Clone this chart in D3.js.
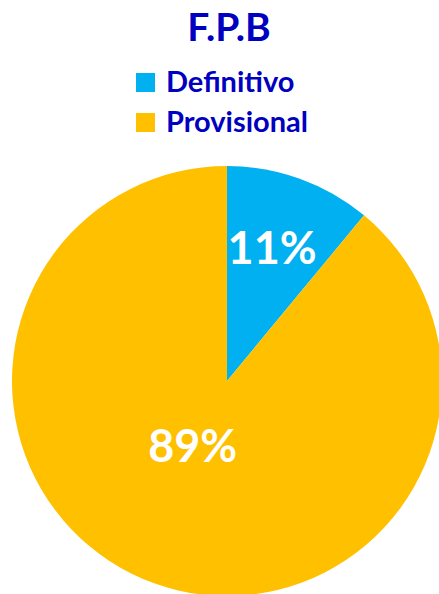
<!DOCTYPE html>
<html>
<head>
<meta charset="utf-8">
<script src="https://cdn.jsdelivr.net/npm/d3@7"></script>
<style>
  html, body { margin: 0; padding: 0; background: #fff; }
  svg { display: block; font-family: Lato, "Open Sans", sans-serif; font-weight: bold; }
</style>
</head>
<body>
<svg id="chart"></svg>
<script>
// Chart data
const title = "F.P.B";
const categories = ["Definitivo", "Provisional"];
const values = [11, 89];
const colors = ["#00B0F0", "#FFC000"];

const width = 439;
const height = 594;
const svg = d3.select("#chart").attr("width", width).attr("height", height);

// Title
svg.append("text")
  .attr("x", 229)
  .attr("y", 41)
  .attr("text-anchor", "middle")
  .attr("fill", "#0000C0")
  .style("font-size", "39px")
  .text(title);

// Legend
const legend = svg.append("g").attr("transform", "translate(136,73)");
const item = legend.selectAll("g")
  .data(categories)
  .enter()
  .append("g")
  .attr("transform", (d, i) => `translate(0,${i * 40})`);

item.append("rect")
  .attr("width", 19)
  .attr("height", 19)
  .attr("fill", (d, i) => colors[i]);

item.append("text")
  .attr("x", 30)
  .attr("y", 19)
  .attr("fill", "#0000C0")
  .style("font-size", "29px")
  .text(d => d);

// Pie
const radius = 215;
const cx = 227, cy = 381;
const pie = d3.pie().sort(null).value(d => d);
const arc = d3.arc().innerRadius(0).outerRadius(radius);
const arcs = pie(values);

const g = svg.append("g").attr("transform", `translate(${cx},${cy})`);
g.selectAll("path")
  .data(arcs)
  .enter()
  .append("path")
  .attr("d", arc)
  .attr("fill", (d, i) => colors[i]);

// data labels, placed at different radii like excel's best fit
const labelRadius = [0.66, 0.32];
const labelShift = [-3, -11];
g.selectAll("text.lbl")
  .data(arcs)
  .enter()
  .append("text")
  .attr("class", "lbl")
  .attr("transform", (d, i) => {
    const r = radius * labelRadius[i];
    const a = d3.arc().innerRadius(r).outerRadius(r);
    const [x, y] = a.centroid(d);
    return `translate(${x + labelShift[i]},${y})`;
  })
  .attr("text-anchor", "middle")
  .attr("dy", "0.36em")
  .attr("fill", "#fff")
  .style("font-size", "45px")
  .text(d => d.data + "%");
</script>
</body>
</html>
